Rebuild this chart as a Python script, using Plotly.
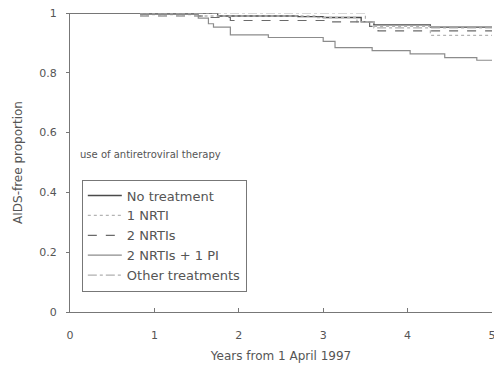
import plotly.graph_objects as go

# Kaplan-Meier style step curves (time in years, AIDS-free proportion)
t_none = [0, 1.75, 2.7, 3.0, 3.45, 3.6, 4.27, 5.0]
s_none = [1.0, 0.99, 0.988, 0.985, 0.97, 0.96, 0.953, 0.953]

t_nrti1 = [0.83, 1.5, 2.9, 3.4, 3.6, 4.27, 5.0]
s_nrti1 = [0.995, 0.99, 0.985, 0.97, 0.955, 0.925, 0.925]

t_nrti2 = [0.83, 1.6, 1.9, 3.1, 3.55, 3.65, 5.0]
s_nrti2 = [0.99, 0.985, 0.975, 0.97, 0.955, 0.94, 0.94]

t_pi = [0.83, 1.52, 1.64, 1.7, 1.9, 2.35, 3.0, 3.14, 3.58, 4.03, 4.44, 4.82, 5.0]
s_pi = [0.995, 0.983, 0.964, 0.953, 0.927, 0.918, 0.905, 0.884, 0.874, 0.863, 0.851, 0.842, 0.842]

t_other = [0.83, 3.5, 3.6, 5.0]
s_other = [1.0, 0.97, 0.95, 0.95]

names = ["No treatment", "1 NRTI", "2 NRTIs", "2 NRTIs + 1 PI", "Other treatments"]
x_ticks = [0, 1, 2, 3, 4, 5]
y_ticks = [0, 0.2, 0.4, 0.6, 0.8, 1]
y_tick_text = ["0", "0.2", "0.4", "0.6", "0.8", "1"]

series = [
    (t_none, s_none, dict(color="#4a4a4a", width=1.3, dash="solid")),
    (t_nrti1, s_nrti1, dict(color="#b4b4b4", width=1.3, dash="dot")),
    (t_nrti2, s_nrti2, dict(color="#6a6a6a", width=1.2, dash="dash")),
    (t_pi, s_pi, dict(color="#8c8c8c", width=1.2, dash="solid")),
    (t_other, s_other, dict(color="#b0b0b0", width=1.2, dash="dashdot")),
]

fig = go.Figure()
for (t, s, ln), nm in zip(series, names):
    fig.add_trace(go.Scatter(x=t, y=s, mode="lines", line_shape="hv",
                             line=ln, name=nm))

FONT = "DejaVu Sans, Verdana, sans-serif"
TXT = "#555555"

fig.update_layout(
    width=494, height=368,
    margin=dict(l=70, r=2, t=13, b=56),
    paper_bgcolor="white", plot_bgcolor="white",
    font=dict(family=FONT, color=TXT, size=11),
    showlegend=True,
    legend=dict(x=0.028, y=0.443, xanchor="left", yanchor="top",
                bordercolor="#777777", borderwidth=1,
                bgcolor="rgba(255,255,255,0)",
                font=dict(family=FONT, size=13, color=TXT),
                tracegroupgap=0, itemwidth=34),
    annotations=[dict(text="use of antiretroviral therapy", x=0.02, y=0.528,
                      xref="paper", yref="paper", xanchor="left", yanchor="middle",
                      showarrow=False, font=dict(family=FONT, size=10, color=TXT))],
)
fig.update_xaxes(range=[0, 5], tickvals=x_ticks, showgrid=False, zeroline=False,
                 showline=True, linecolor="#777777", linewidth=1,
                 ticks="inside", ticklen=4, tickcolor="#777777",
                 ticklabelstandoff=13, ticklabeloverflow="allow", automargin=False,
                 tickfont=dict(family=FONT, size=11, color=TXT),
                 title=dict(text="Years from 1 April 1997", standoff=10,
                            font=dict(family=FONT, size=12, color=TXT)))
fig.update_yaxes(range=[0, 1], tickvals=y_ticks, ticktext=y_tick_text,
                 showgrid=False, zeroline=False, automargin=False,
                 showline=True, linecolor="#777777", linewidth=1,
                 ticks="outside", ticklen=3, tickcolor="#777777",
                 ticklabelstandoff=7,
                 tickfont=dict(family=FONT, size=11, color=TXT),
                 title=dict(text="AIDS-free proportion", standoff=14,
                            font=dict(family=FONT, size=12, color=TXT)))

fig.write_html("out.html")
